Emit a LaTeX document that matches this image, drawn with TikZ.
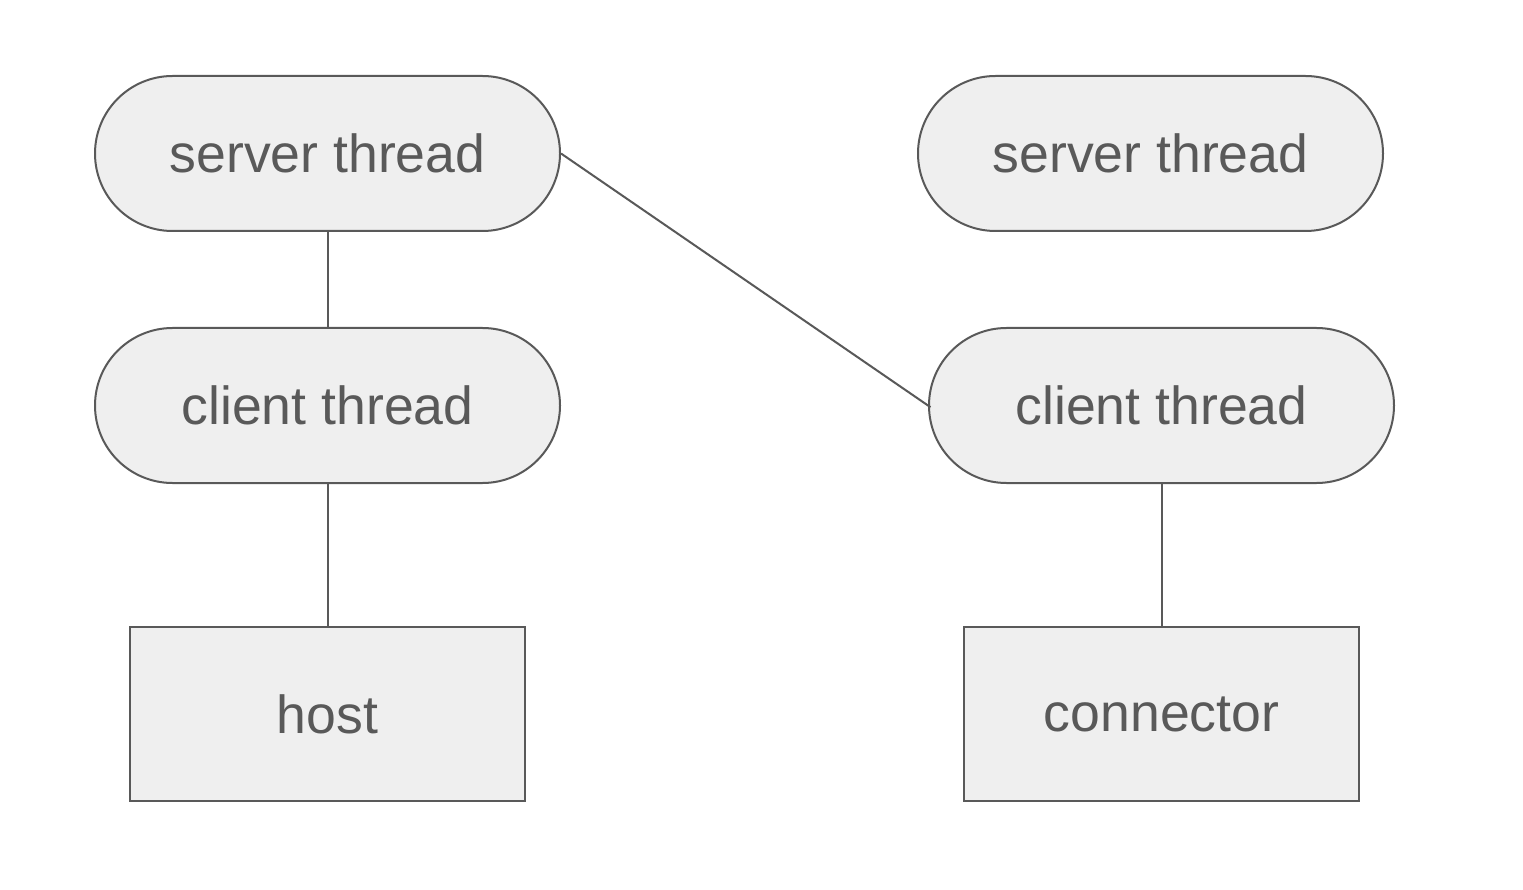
\documentclass[tikz,border=0pt]{standalone}
\usepackage{fontspec}
\setmainfont{Liberation Sans}
\definecolor{boxfill}{HTML}{EFEFEF}
\definecolor{ink}{HTML}{595959}
\begin{document}
\begin{tikzpicture}[x=1pt,y=-1pt,
  thread/.style={draw=ink, fill=boxfill, line width=2pt, rectangle,
    minimum width=465pt, minimum height=155pt, inner sep=0pt, rounded corners=77.5pt,
    text=ink, font=\fontsize{53.6}{64}\selectfont},
  endpoint/.style={draw=ink, fill=boxfill, line width=2pt, rectangle,
    minimum width=395pt, minimum height=174pt, inner sep=0pt,
    text=ink, font=\fontsize{53.6}{64}\selectfont},
  link/.style={draw=ink, line width=2pt}]
  \useasboundingbox (0,0) rectangle (1523,890);
  \fill[white] (0,0) rectangle (1523,890);

  % left side: host
  \node[thread] (ls) at (327.5,153.5) {server thread};
  \node[thread] (lc) at (327.5,405.5) {client thread};
  \node[endpoint] (host) at (327.5,714) {host};

  % right side: connector
  \node[thread] (rs) at (1150.5,153.5) {server thread};
  \node[thread] (rc) at (1161.5,405.5) {client thread};
  \node[endpoint] (conn) at (1161.5,714) {connector};

  \draw[link] (ls) -- (lc);
  \draw[link] (lc) -- (host);
  \draw[link] (rc) -- (conn);
  \draw[link, shorten >=-3pt] (ls.east) -- (rc.west);
\end{tikzpicture}
\end{document}
